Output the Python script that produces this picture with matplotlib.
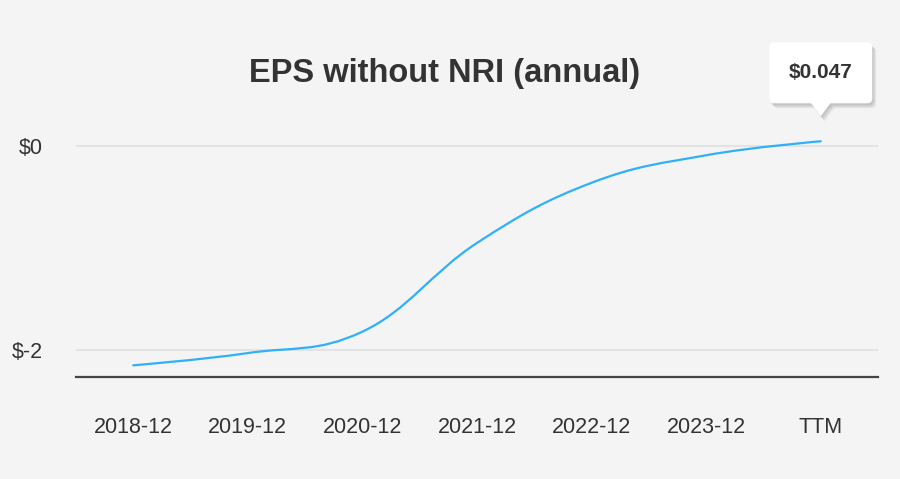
import matplotlib.pyplot as plt
from matplotlib.path import Path
from matplotlib.patches import PathPatch, FancyBboxPatch, Polygon
import matplotlib.transforms as mtransforms
import numpy as np

plt.rcParams['font.family'] = ['Liberation Sans', 'DejaVu Sans']

# data
categories = ["2018-12", "2019-12", "2020-12", "2021-12", "2022-12", "2023-12", "TTM"]
eps = [-2.15, -2.03, -1.82, -0.95, -0.36, -0.09, 0.047]
yticks = [0, -2]
ytick_labels = ["$0", "$-2"]
title = "EPS without NRI (annual)"
tooltip = "$0.047"

bg = '#f4f4f4'
line_color = '#2fb0fa'

fig = plt.figure(figsize=(9, 4.79), dpi=100, facecolor=bg)
ax = fig.add_axes([0.0844, 0.2129, 0.8912, 0.546], facecolor=bg)

x = np.arange(len(categories))
y = np.array(eps)


def spline_path(xs, ys, smoothing=1.5):
    # highcharts style spline: cubic bezier segments between points
    denom = smoothing + 1
    n = len(xs)
    lc, rc = [], []
    for i in range(n):
        px, py = xs[i], ys[i]
        if i == 0 or i == n - 1:
            lc.append((px, py)); rc.append((px, py))
            continue
        lx, ly = xs[i - 1], ys[i - 1]
        nx, ny = xs[i + 1], ys[i + 1]
        lcx = (smoothing * px + lx) / denom
        lcy = (smoothing * py + ly) / denom
        rcx = (smoothing * px + nx) / denom
        rcy = (smoothing * py + ny) / denom
        corr = (rcy - lcy) * (rcx - px) / (rcx - lcx) + py - rcy
        lcy += corr; rcy += corr
        if lcy > ly and lcy > py:
            lcy = max(ly, py); rcy = 2 * py - lcy
        elif lcy < ly and lcy < py:
            lcy = min(ly, py); rcy = 2 * py - lcy
        if rcy > ny and rcy > py:
            rcy = max(ny, py); lcy = 2 * py - rcy
        elif rcy < ny and rcy < py:
            rcy = min(ny, py); lcy = 2 * py - rcy
        lc.append((lcx, lcy)); rc.append((rcx, rcy))
    verts = [(xs[0], ys[0])]
    codes = [Path.MOVETO]
    for i in range(1, n):
        verts += [rc[i - 1], lc[i], (xs[i], ys[i])]
        codes += [Path.CURVE4] * 3
    return Path(verts, codes)


ax.add_patch(PathPatch(spline_path(x, y), fc='none', ec=line_color, lw=1.6,
                       capstyle='round', zorder=3))

ax.set_xlim(-0.5, len(categories) - 0.5)
ax.set_ylim(-2.265, 0.3)
ax.set_xticks(x)
ax.set_xticklabels(categories)
ax.set_yticks(yticks)
ax.set_yticklabels(ytick_labels)
ax.tick_params(axis='x', length=0, pad=29, labelsize=15.5, labelcolor='#333333')
ax.tick_params(axis='y', length=0, pad=24, labelsize=15.5, labelcolor='#333333')
ax.grid(axis='y', color='#e3e3e3', lw=1.5)
ax.set_axisbelow(True)
for s in ['top', 'right', 'left']:
    ax.spines[s].set_visible(False)
ax.spines['bottom'].set_color('#444444')
ax.spines['bottom'].set_linewidth(1.6)

fig.text(0.494, 0.847, title, ha='center', va='center', fontsize=23.5,
         fontweight='bold', color='#333333')

# tooltip above last point (sizes in pixels relative to the point)
pt = (x[-1], y[-1])
anchor = mtransforms.Affine2D().translate(*ax.transData.transform(pt))
layers = [(s + 1, -s - 2, '#000000', 0.05, 5) for s in range(4)] + [(0, 0, 'white', 1, 6)]
for dx, dy, fc, a, z in layers:
    tr = mtransforms.Affine2D().translate(dx, dy) + anchor
    box = FancyBboxPatch((-51.5, 38), 103, 61, boxstyle='round,pad=0,rounding_size=5',
                         fc=fc, ec='none', alpha=a, zorder=z, clip_on=False)
    box.set_transform(tr)
    ax.add_artist(box)
    tri = Polygon([(-10, 38.5), (10, 38.5), (0, 25)], closed=True, fc=fc, ec='none',
                  alpha=a, zorder=z, clip_on=False)
    tri.set_transform(tr)
    ax.add_artist(tri)

ax.annotate(tooltip, xy=pt, xytext=(0, 68.5 * 0.72), textcoords='offset points',
            ha='center', va='center', fontsize=15, fontweight='bold', color='#333333',
            zorder=7, annotation_clip=False)

fig.savefig('out.png', dpi=100, facecolor=bg)
